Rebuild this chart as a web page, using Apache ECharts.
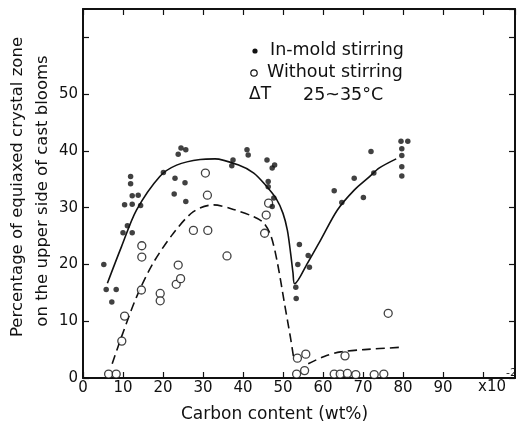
<!DOCTYPE html>
<html>
<head>
<meta charset="utf-8">
<script src="https://cdn.jsdelivr.net/npm/echarts@6/dist/echarts.min.js"></script>
<style>
  html, body { margin: 0; padding: 0; background: #fff; }
  #chart { width: 527px; height: 430px; }
</style>
</head>
<body>
<div id="chart"></div>
<script>
// carbon content (x10^-2 wt%), percentage of equiaxed zone
var stirred = [
    [5.2, 20.0], [5.8, 15.6], [7.2, 13.4], [8.3, 15.6], [10.0, 25.6], [10.4, 30.5],
    [11.1, 26.8], [11.9, 35.5], [11.9, 34.2], [12.3, 32.1], [12.3, 30.6], [12.3, 25.6],
    [13.8, 32.2], [14.4, 30.4], [20.1, 36.2], [22.8, 32.4], [23.0, 35.2], [23.8, 39.4],
    [24.5, 40.5], [25.5, 34.4], [25.7, 40.2], [25.7, 31.1], [37.2, 37.4], [37.5, 38.4],
    [41.0, 40.2], [41.3, 39.3], [46.0, 38.4], [46.3, 34.6], [46.3, 33.7], [47.3, 37.0],
    [47.9, 37.5], [47.3, 30.2], [47.7, 31.7], [53.2, 16.0], [53.3, 14.0], [53.7, 20.0],
    [54.1, 23.5], [56.3, 21.6], [56.6, 19.5], [62.8, 33.0], [64.7, 30.9], [67.8, 35.2],
    [70.1, 31.8], [72.0, 39.9], [72.7, 36.1], [79.5, 41.7], [81.2, 41.7], [79.7, 40.4],
    [79.7, 39.2], [79.7, 37.2], [79.7, 35.6]
];
var unstirred = [
    [6.4, 0.7], [8.3, 0.7], [9.7, 6.5], [10.4, 10.9], [14.6, 15.5], [14.7, 21.3],
    [14.7, 23.3], [19.3, 14.9], [19.3, 13.6], [23.3, 16.5], [23.8, 19.9], [24.4, 17.5],
    [27.6, 26.0], [30.6, 36.1], [31.1, 32.2], [31.2, 26.0], [36.0, 21.5], [45.4, 25.5],
    [45.8, 28.7], [46.4, 30.8], [53.4, 0.7], [53.6, 3.5], [55.4, 1.3], [55.7, 4.2],
    [62.8, 0.7], [64.3, 0.7], [66.1, 0.8], [68.2, 0.6], [72.8, 0.6], [75.2, 0.7],
    [65.5, 3.9], [76.3, 11.4]
];
// hand drawn fit curves
var stirredCurve = [
    [6.1, 16.7], [9.6, 23.1], [13.4, 29.6], [19.2, 35.5], [23.4, 37.5], [29.3, 38.5],
    [33.0, 38.6], [38.9, 37.5], [42.7, 36.1], [45.6, 34.0], [48.3, 31.6], [50.0, 29.0],
    [51.1, 26.0], [51.9, 22.0], [52.5, 18.5], [52.9, 16.6], [56.1, 20.2], [59.4, 24.3],
    [63.6, 29.6], [67.8, 33.1], [71.2, 35.2], [74.1, 37.0], [78.3, 38.6]
];
var unstirredCurve = [
    [7.3, 2.5], [9.6, 7.2], [13.4, 14.3], [17.5, 20.2], [22.6, 25.5], [27.6, 29.3],
    [32.6, 30.5], [37.6, 29.7], [42.7, 28.4], [45.2, 27.3], [47.0, 25.0], [48.6, 20.3],
    [50.4, 13.0], [51.8, 7.4], [52.7, 3.4]
];
var unstirredTail = [[56.3, 2.5], [60.3, 3.8], [64.4, 4.6], [70.3, 5.0], [79.3, 5.4]];

var xTicks = [0, 10, 20, 30, 40, 50, 60, 70, 80, 90];
var yTicks = [0, 10, 20, 30, 40, 50];

var font = 'DejaVu Sans';
var ink = '#111';

var myChart = echarts.init(document.getElementById('chart'));

var axisLineStyle = { onZero: false, lineStyle: { color: ink, width: 2 } };
var tickStyle = { show: true, inside: true, length: 6, lineStyle: { color: ink, width: 1.2 } };

option = {
    animation: false,
    grid: { left: 83, right: 12, top: 9, bottom: 52, containLabel: false },
    xAxis: [{
        type: 'value', min: 0, max: 108, interval: 10, position: 'bottom',
        axisLine: axisLineStyle,
        axisTick: tickStyle,
        splitLine: { show: false },
        axisLabel: {
            color: ink, fontFamily: font, fontSize: 15, margin: 3,
            showMaxLabel: false,
            formatter: function (v) { return xTicks.indexOf(v) >= 0 ? String(v) : ''; }
        }
    }, {
        type: 'value', min: 0, max: 108, interval: 10, position: 'top',
        axisLine: axisLineStyle,
        axisTick: tickStyle,
        splitLine: { show: false },
        axisLabel: { show: false }
    }],
    yAxis: [{
        type: 'value', min: 0, max: 65, interval: 10, position: 'left',
        axisLine: axisLineStyle,
        axisTick: tickStyle,
        splitLine: { show: false },
        axisLabel: {
            color: ink, fontFamily: font, fontSize: 15, margin: 5,
            showMaxLabel: false,
            formatter: function (v) { return yTicks.indexOf(v) >= 0 ? String(v) : ''; }
        }
    }, {
        type: 'value', min: 0, max: 65, interval: 10, position: 'right',
        axisLine: axisLineStyle,
        axisTick: tickStyle,
        splitLine: { show: false },
        axisLabel: { show: false }
    }],
    graphic: [
        { type: 'text', left: 181, top: 406, style: { text: 'Carbon content (wt%)', font: '17px "DejaVu Sans"', fill: ink } },
        { type: 'text', left: 478, top: 380, style: { text: 'x10', font: '15px "DejaVu Sans"', fill: ink } },
        { type: 'text', left: 506, top: 368, z: 100, style: { text: '-2', font: '11px "DejaVu Sans"', fill: ink } },
        { type: 'text', x: 18, y: 187, rotation: Math.PI / 2,
          style: { text: 'Percentage of equiaxed crystal zone', font: '16.5px "DejaVu Sans"', fill: ink, textAlign: 'center', textVerticalAlign: 'middle' } },
        { type: 'text', x: 43, y: 191, rotation: Math.PI / 2,
          style: { text: 'on the upper side of cast blooms', font: '16.5px "DejaVu Sans"', fill: ink, textAlign: 'center', textVerticalAlign: 'middle' } },
        { type: 'circle', shape: { cx: 255, cy: 51, r: 2.6 }, style: { fill: ink } },
        { type: 'text', left: 270, top: 41, style: { text: 'In-mold stirring', font: '17.5px "DejaVu Sans"', fill: ink } },
        { type: 'circle', shape: { cx: 254, cy: 73, r: 3.2 }, style: { fill: '#fff', stroke: ink, lineWidth: 1.2 } },
        { type: 'text', left: 267, top: 63, style: { text: 'Without stirring', font: '17.5px "DejaVu Sans"', fill: ink } },
        { type: 'text', left: 249, top: 86, style: { text: '\u0394T', font: '17px "DejaVu Sans"', fill: ink } },
        { type: 'text', left: 303, top: 86, style: { text: '25~35\u00b0C', font: '17.5px "DejaVu Sans"', fill: ink } }
    ],
    series: [{
        name: 'fit stirred', type: 'line', data: stirredCurve, smooth: 0.3,
        showSymbol: false, z: 1,
        lineStyle: { color: ink, width: 1.6 }
    }, {
        name: 'fit unstirred', type: 'line', data: unstirredCurve, smooth: 0.3,
        showSymbol: false, z: 1,
        lineStyle: { color: ink, width: 1.6, type: [9, 5] }
    }, {
        name: 'fit unstirred tail', type: 'line', data: unstirredTail, smooth: 0.3,
        showSymbol: false, z: 1,
        lineStyle: { color: ink, width: 1.6, type: [9, 5] }
    }, {
        name: 'In-mold stirring', type: 'scatter', data: stirred, z: 3,
        symbol: 'circle', symbolSize: 5.5,
        itemStyle: { color: ink }
    }, {
        name: 'Without stirring', type: 'scatter', data: unstirred, z: 2,
        symbol: 'circle', symbolSize: 8,
        itemStyle: { color: '#fff', borderColor: ink, borderWidth: 1.3 }
    }]
};

myChart.setOption(option);
</script>
</body>
</html>
